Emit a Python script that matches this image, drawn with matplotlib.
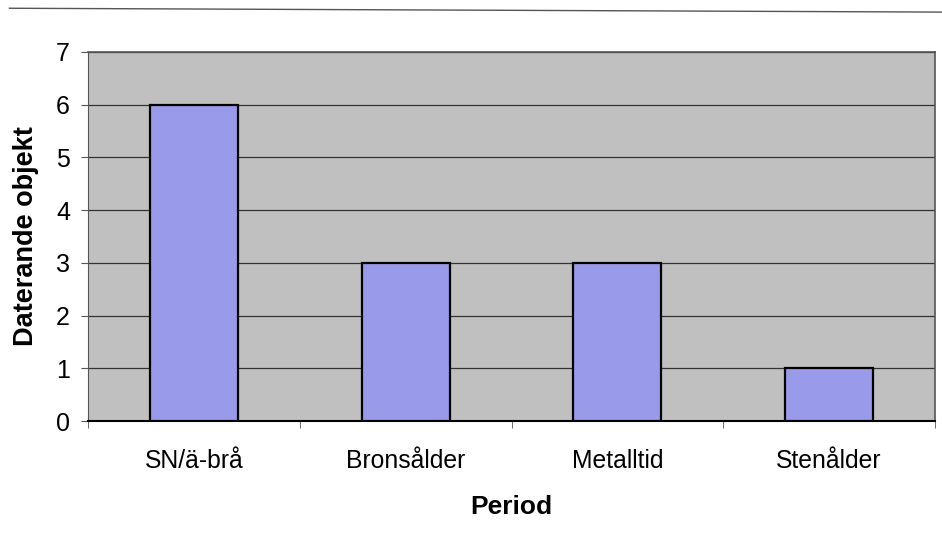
import matplotlib
matplotlib.use("Agg")
import matplotlib.pyplot as plt
import numpy as np
from matplotlib.lines import Line2D

periods = ["SN/ä-brå", "Bronsålder", "Metalltid", "Stenålder"]
counts = [6, 3, 3, 1]
y_ticks = [0, 1, 2, 3, 4, 5, 6, 7]

plt.rcParams['font.family'] = ['Liberation Sans', 'DejaVu Sans']

fig = plt.figure(figsize=(9.42, 5.5), dpi=100)
ax = fig.add_axes([0.0934, 0.2345, 0.8992, 0.671])
ax.set_facecolor('#c0c0c0')

x = np.arange(len(periods))
ax.bar(x, counts, width=0.415, color='#9a9aea', edgecolor='black', linewidth=1.6, zorder=3)

ax.set_ylim(0, 7)
ax.set_xlim(-0.5, len(periods) - 0.5)
ax.set_yticks(y_ticks)
ax.yaxis.grid(True, color='#333333', linewidth=0.9, zorder=1)
ax.set_axisbelow(True)

# category labels centred, ticks on the category boundaries
ax.set_xticks(x)
ax.set_xticklabels(periods, fontsize=17.8)
ax.tick_params(axis='x', which='major', length=0, pad=20)
ax.set_xticks(np.arange(-0.5, len(periods), 1), minor=True)
ax.tick_params(axis='x', which='minor', length=5, direction='out', color='#555555')
ax.tick_params(axis='y', labelsize=18, length=5, color='#555555', pad=8)

for side in ['top', 'right']:
    ax.spines[side].set_color('#555555')
    ax.spines[side].set_linewidth(1.2)
ax.spines['left'].set_color('#555555')
ax.spines['bottom'].set_color('black')
ax.spines['bottom'].set_linewidth(1.5)

ax.set_ylabel("Daterande objekt", fontsize=19.5, fontweight='bold', labelpad=12)
ax.set_xlabel("Period", fontsize=19, fontweight='bold', labelpad=16)

# scanned-page rule along the top
fig.add_artist(Line2D([0.01, 1.0], [0.985, 0.978], color='#555555', linewidth=1.0))

fig.savefig("out.png", dpi=100)
